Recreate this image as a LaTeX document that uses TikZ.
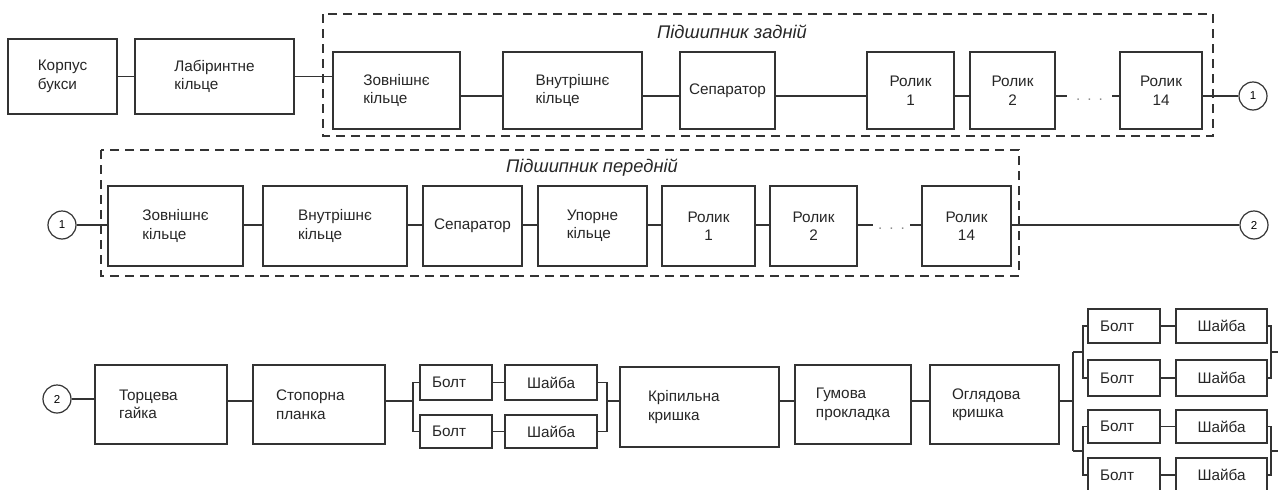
\documentclass[tikz,border=0pt]{standalone}
\usepackage{fontspec}
\setmainfont{Liberation Sans}
\definecolor{ln}{HTML}{333333}
\newcommand{\blkfont}{\fontsize{15.3}{18.5}\selectfont}

\begin{document}
\begin{tikzpicture}[x=1pt, y=-1pt,
  box/.style={draw=ln, line width=1.5pt, inner sep=1pt, align=left, font=\blkfont, text=black!85},
  rol/.style={box, align=center},
  lpad/.style 2 args={inner xsep=#1, text width=#2},
  conn/.style={ln, line width=1.5pt},
  frame/.style={ln, line width=1.5pt, dash pattern=on 9pt off 6pt},
  num/.style={circle, draw=ln, line width=1.2pt, minimum size=28pt, inner sep=0pt, font=\fontsize{11.5}{11.5}\selectfont},
  ttl/.style={font=\fontsize{18.3}{20}\selectfont\itshape, text=black!85},
  dts/.style={inner sep=0pt, font=\blkfont, text=black!45}]
  \useasboundingbox (0,0) rectangle (1278,490);
  \clip (0,0) rectangle (1278,490);

  % рядок 1: корпус, лабіринтне кільце, задній підшипник
  \draw[frame] (323,14) rectangle (1213,136);
  \node[ttl] (tz) at (732,32) {Підшипник задній};
  \node[box, minimum width=109pt, minimum height=75pt] (korpus) at (62.5,76.5) {Корпус\\букси};
  \node[box, minimum width=159pt, minimum height=75pt] (labir) at (214.5,76.5) {Лабіринтне\\кільце};
  \node[box, minimum width=127pt, minimum height=77pt] (zz) at (396.5,90.5) {Зовнішнє\\кільце};
  \node[box, minimum width=139pt, minimum height=77pt] (vz) at (572.5,90.5) {Внутрішнє\\кільце};
  \node[box, minimum width=95pt, minimum height=77pt] (sz) at (727.5,90.5) {Сепаратор};
  \node[rol, minimum width=87pt, minimum height=77pt] (rz1) at (910.5,90.5) {Ролик\\1};
  \node[rol, minimum width=85pt, minimum height=77pt] (rz2) at (1012.5,90.5) {Ролик\\2};
  \node[dts, minimum width=45pt] (dz) at (1089.5,100) {.\hspace{7pt}.\hspace{7pt}.};
  \node[rol, minimum width=82pt, minimum height=77pt] (rz14) at (1161,90.5) {Ролик\\14};
  \node[num] (n1a) at (1253,96) {1};

  \coordinate (r1) at (0,96);
  \draw[conn] (korpus) -- (labir);
  \draw[conn] (labir.east) -- (labir.east -| zz.west);
  \draw[conn] (zz.east |- r1) -- (vz.west |- r1);
  \draw[conn] (vz.east |- r1) -- (sz.west |- r1);
  \draw[conn] (sz.east |- r1) -- (rz1.west |- r1);
  \draw[conn] (rz1.east |- r1) -- (rz2.west |- r1);
  \draw[conn] (rz2.east |- r1) -- (dz.west |- r1);
  \draw[conn] (dz.east |- r1) -- (rz14.west |- r1);
  \draw[conn] (rz14.east |- r1) -- (n1a);

  % рядок 2: передній підшипник
  \draw[frame] (101,150) rectangle (1019,276);
  \node[ttl] (tp) at (592,168) {Підшипник передній};
  \node[num] (n1b) at (62,225) {1};
  \node[box, minimum width=135pt, minimum height=80pt] (zp) at (175.5,226) {Зовнішнє\\кільце};
  \node[box, minimum width=144pt, minimum height=80pt] (vp) at (335,226) {Внутрішнє\\кільце};
  \node[box, minimum width=99pt, minimum height=80pt] (sp) at (472.5,226) {Сепаратор};
  \node[box, minimum width=109pt, minimum height=80pt] (up) at (592.5,226) {Упорне\\кільце};
  \node[rol, minimum width=93pt, minimum height=80pt] (rp1) at (708.5,226) {Ролик\\1};
  \node[rol, minimum width=87pt, minimum height=80pt] (rp2) at (813.5,226) {Ролик\\2};
  \node[dts, minimum width=37pt] (dp) at (891.5,229) {.\hspace{7pt}.\hspace{7pt}.};
  \node[rol, minimum width=89pt, minimum height=80pt] (rp14) at (966.5,226) {Ролик\\14};
  \node[num] (n2a) at (1254,225) {2};

  \coordinate (r2) at (0,225);
  \draw[conn] (n1b) -- (zp.west |- r2);
  \draw[conn] (zp.east |- r2) -- (vp.west |- r2);
  \draw[conn] (vp.east |- r2) -- (sp.west |- r2);
  \draw[conn] (sp.east |- r2) -- (up.west |- r2);
  \draw[conn] (up.east |- r2) -- (rp1.west |- r2);
  \draw[conn] (rp1.east |- r2) -- (rp2.west |- r2);
  \draw[conn] (rp2.east |- r2) -- (dp.west |- r2);
  \draw[conn] (dp.east |- r2) -- (rp14.west |- r2);
  \draw[conn] (rp14.east |- r2) -- (n2a);

  % рядок 3: кріплення кришок
  \node[num] (n2b) at (57,399) {2};
  \node[box, lpad={24pt}{84pt}, minimum height=79pt] (tg) at (161,404.5) {Торцева\\гайка};
  \node[box, lpad={23pt}{86pt}, minimum height=79pt] (spl) at (319,404.5) {Стопорна\\планка};
  \node[box, lpad={12pt}{48pt}, minimum height=35pt] (b1) at (456,382.5) {Болт};
  \node[box, minimum width=92pt, minimum height=35pt, align=center] (w1) at (551,382.5) {Шайба};
  \node[box, lpad={12pt}{48pt}, minimum height=33pt] (b2) at (456,431.5) {Болт};
  \node[box, minimum width=92pt, minimum height=33pt, align=center] (w2) at (551,431.5) {Шайба};
  \node[box, lpad={28pt}{103pt}, minimum height=80pt] (kk) at (699.5,407) {Кріпильна\\кришка};
  \node[box, minimum width=116pt, minimum height=79pt] (gp) at (853,404.5) {Гумова\\прокладка};
  \node[box, lpad={22pt}{85pt}, minimum height=79pt] (ok) at (994.5,404.5) {Оглядова\\кришка};
  \node[box, lpad={12pt}{48pt}, minimum height=34pt] (bA) at (1124,326) {Болт};
  \node[box, minimum width=91pt, minimum height=34pt, align=center] (wA) at (1221.5,326) {Шайба};
  \node[box, lpad={12pt}{48pt}, minimum height=36pt] (bB) at (1124,378) {Болт};
  \node[box, minimum width=91pt, minimum height=36pt, align=center] (wB) at (1221.5,378) {Шайба};
  \node[box, lpad={12pt}{48pt}, minimum height=33pt] (bC) at (1124,426.5) {Болт};
  \node[box, minimum width=91pt, minimum height=33pt, align=center] (wC) at (1221.5,426.5) {Шайба};
  \node[box, lpad={12pt}{48pt}, minimum height=34pt] (bD) at (1124,475) {Болт};
  \node[box, minimum width=91pt, minimum height=34pt, align=center] (wD) at (1221.5,475) {Шайба};

  \coordinate (r3) at (0,401);
  \coordinate (f1) at (413,0);
  \coordinate (f2) at (607,0);
  \coordinate (f3) at (1073,0);
  \coordinate (f4) at (1083,0);
  \coordinate (f5) at (1271,0);
  \coordinate (m1) at (0,352);
  \coordinate (m2) at (0,451);
  \coordinate (e1) at (1290,352);
  \coordinate (e2) at (1290,451);

  \draw[conn] (n2b) -- (n2b -| tg.west);
  \draw[conn] (tg.east |- r3) -- (spl.west |- r3);
  \draw[conn] (spl.east |- r3) -- (f1 |- r3);
  \draw[conn] (b1.west) -- (b1.west -| f1) -- (b2.west -| f1) -- (b2.west);
  \draw[conn] (b1) -- (w1);
  \draw[conn] (b2) -- (w2);
  \draw[conn] (w1.east) -- (w1.east -| f2) -- (w2.east -| f2) -- (w2.east);
  \draw[conn] (f2 |- r3) -- (kk.west |- r3);
  \draw[conn] (kk.east |- r3) -- (gp.west |- r3);
  \draw[conn] (gp.east |- r3) -- (ok.west |- r3);
  \draw[conn] (ok.east |- r3) -- (f3 |- r3);
  \draw[conn] (f3 |- m1) -- (f3 |- m2);
  \draw[conn] (f3 |- m1) -- (f4 |- m1);
  \draw[conn] (f3 |- m2) -- (f4 |- m2);
  \draw[conn] (bA.west) -- (bA.west -| f4) -- (bB.west -| f4) -- (bB.west);
  \draw[conn] (bC.west) -- (bC.west -| f4) -- (bD.west -| f4) -- (bD.west);
  \draw[conn] (bA) -- (wA);
  \draw[conn] (bB) -- (wB);
  \draw[conn] (bC) -- (wC);
  \draw[conn] (bD) -- (wD);
  \draw[conn] (wA.east) -- (wA.east -| f5) -- (wB.east -| f5) -- (wB.east);
  \draw[conn] (wC.east) -- (wC.east -| f5) -- (wD.east -| f5) -- (wD.east);
  \draw[conn] (f5 |- m1) -- (e1);
  \draw[conn] (f5 |- m2) -- (e2);
\end{tikzpicture}
\end{document}
